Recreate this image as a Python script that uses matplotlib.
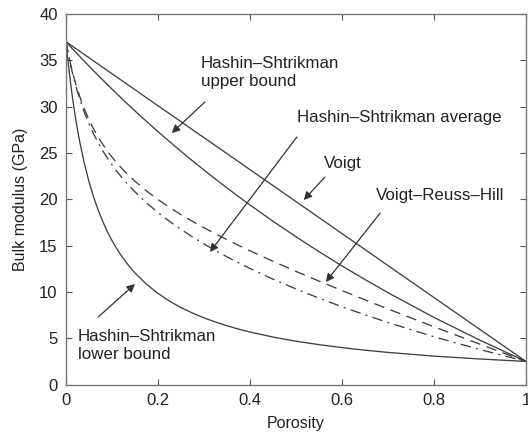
import matplotlib
matplotlib.use('Agg')
import matplotlib.pyplot as plt

# porosity grid
porosity = [0, 0.005, 0.01, 0.015, 0.02, 0.025, 0.03, 0.04, 0.05, 0.06, 0.07, 0.08,
            0.09, 0.1, 0.11, 0.12, 0.135, 0.15, 0.175, 0.2, 0.225, 0.25, 0.275, 0.3,
            0.325, 0.35, 0.375, 0.4, 0.45, 0.5, 0.55, 0.6, 0.65, 0.7, 0.8, 0.9, 1.0]

voigt = [37.0, 36.83, 36.66, 36.48, 36.31, 36.14, 35.97, 35.62, 35.28, 34.93, 34.59, 34.24,
         33.90, 33.55, 33.21, 32.86, 32.34, 31.83, 30.96, 30.10, 29.24, 28.38, 27.51, 26.65,
         25.79, 24.93, 24.06, 23.20, 21.48, 19.75, 18.03, 16.30, 14.58, 12.85, 9.40, 5.95, 2.50]
hs_upper = [37.0, 36.73, 36.46, 36.20, 35.93, 35.67, 35.41, 34.89, 34.38, 33.87, 33.37, 32.87,
            32.38, 31.89, 31.41, 30.94, 30.23, 29.54, 28.41, 27.30, 26.23, 25.18, 24.15, 23.16,
            22.18, 21.23, 20.30, 19.39, 17.63, 15.96, 14.35, 12.81, 11.34, 9.92, 7.25, 4.79, 2.50]
hs_lower = [37.0, 34.61, 32.51, 30.65, 29.00, 27.51, 26.17, 23.84, 21.89, 20.24, 18.82, 17.59,
            16.50, 15.55, 14.69, 13.93, 12.92, 12.05, 10.83, 9.84, 9.01, 8.31, 7.72, 7.20,
            6.75, 6.35, 5.99, 5.67, 5.13, 4.68, 4.31, 3.99, 3.71, 3.47, 3.07, 2.76, 2.50]
vrh = [37.0, 35.72, 34.58, 33.57, 32.66, 31.83, 31.07, 29.73, 28.58, 27.59, 26.71, 25.92,
       25.20, 24.55, 23.95, 23.40, 22.63, 21.94, 20.90, 19.97, 19.13, 18.34, 17.62, 16.93,
       16.27, 15.64, 15.03, 14.44, 13.31, 12.22, 11.17, 10.15, 9.15, 8.16, 6.24, 4.36, 2.50]
hs_avg = [37.0, 35.67, 34.49, 33.43, 32.47, 31.59, 30.79, 29.37, 28.14, 27.06, 26.10, 25.23,
          24.44, 23.72, 23.05, 22.44, 21.58, 20.80, 19.62, 18.57, 17.62, 16.75, 15.94, 15.18,
          14.47, 13.79, 13.15, 12.53, 11.38, 10.32, 9.33, 8.40, 7.53, 6.70, 5.16, 3.78, 2.50]

x_ticks = [0, 0.2, 0.4, 0.6, 0.8, 1]
x_ticklabels = ['0', '0.2', '0.4', '0.6', '0.8', '1']
y_ticks = [0, 5, 10, 15, 20, 25, 30, 35, 40]

plt.rcParams['font.family'] = ['Liberation Sans', 'DejaVu Sans']

fig = plt.figure(figsize=(5.28, 4.37), dpi=100)
ax = fig.add_axes([0.125, 0.12, 0.871, 0.848])

lc = '#404040'
ax.plot(porosity, voigt, color=lc, lw=0.95)
ax.plot(porosity, hs_upper, color=lc, lw=0.95)
ax.plot(porosity, hs_lower, color=lc, lw=0.95)
ax.plot(porosity, vrh, color=lc, lw=0.95, dashes=(8, 5))
ax.plot(porosity, hs_avg, color=lc, lw=0.95, dashes=(8, 4, 1.5, 4))

ax.set_xlim(0, 1)
ax.set_ylim(0, 40)
ax.set_xticks(x_ticks)
ax.set_xticklabels(x_ticklabels)
ax.set_yticks(y_ticks)
ax.tick_params(direction='in', top=True, right=True, length=4, width=0.8,
               colors='#555555', labelcolor='#222222', labelsize=12, pad=6)
for s in ax.spines.values():
    s.set_color('#777777')
    s.set_linewidth(1.0)

ax.set_xlabel('Porosity', fontsize=11.5, color='#222222', labelpad=6)
ax.set_ylabel('Bulk modulus (GPa)', fontsize=11.5, color='#222222', labelpad=8)

tc = '#222222'
arrow = dict(arrowstyle='-|>', color='#333333', lw=0.9, mutation_scale=12,
             shrinkA=0, shrinkB=0)

ax.text(0.293, 33.7, 'Hashin\u2013Shtrikman\nupper bound', fontsize=12.2, color=tc,
        va='center', ha='left', linespacing=1.25)
ax.annotate('', xy=(0.230, 27.15), xytext=(0.302, 30.5), arrowprops=arrow)

ax.text(0.502, 28.78, 'Hashin\u2013Shtrikman average', fontsize=12.2, color=tc,
        va='center', ha='left')
ax.annotate('', xy=(0.313, 14.3), xytext=(0.502, 26.72), arrowprops=arrow)

ax.text(0.561, 23.91, 'Voigt', fontsize=12.2, color=tc, va='center', ha='left')
ax.annotate('', xy=(0.517, 19.92), xytext=(0.563, 22.4), arrowprops=arrow)

ax.text(0.674, 20.46, 'Voigt\u2013Reuss\u2013Hill', fontsize=12.2, color=tc,
        va='center', ha='left')
ax.annotate('', xy=(0.565, 11.07), xytext=(0.683, 18.51), arrowprops=arrow)

ax.text(0.026, 4.26, 'Hashin\u2013Shtrikman\nlower bound', fontsize=12.2, color=tc,
        va='center', ha='left', linespacing=1.25)
ax.annotate('', xy=(0.150, 10.85), xytext=(0.070, 7.29), arrowprops=arrow)

fig.savefig('out.png', dpi=100)
